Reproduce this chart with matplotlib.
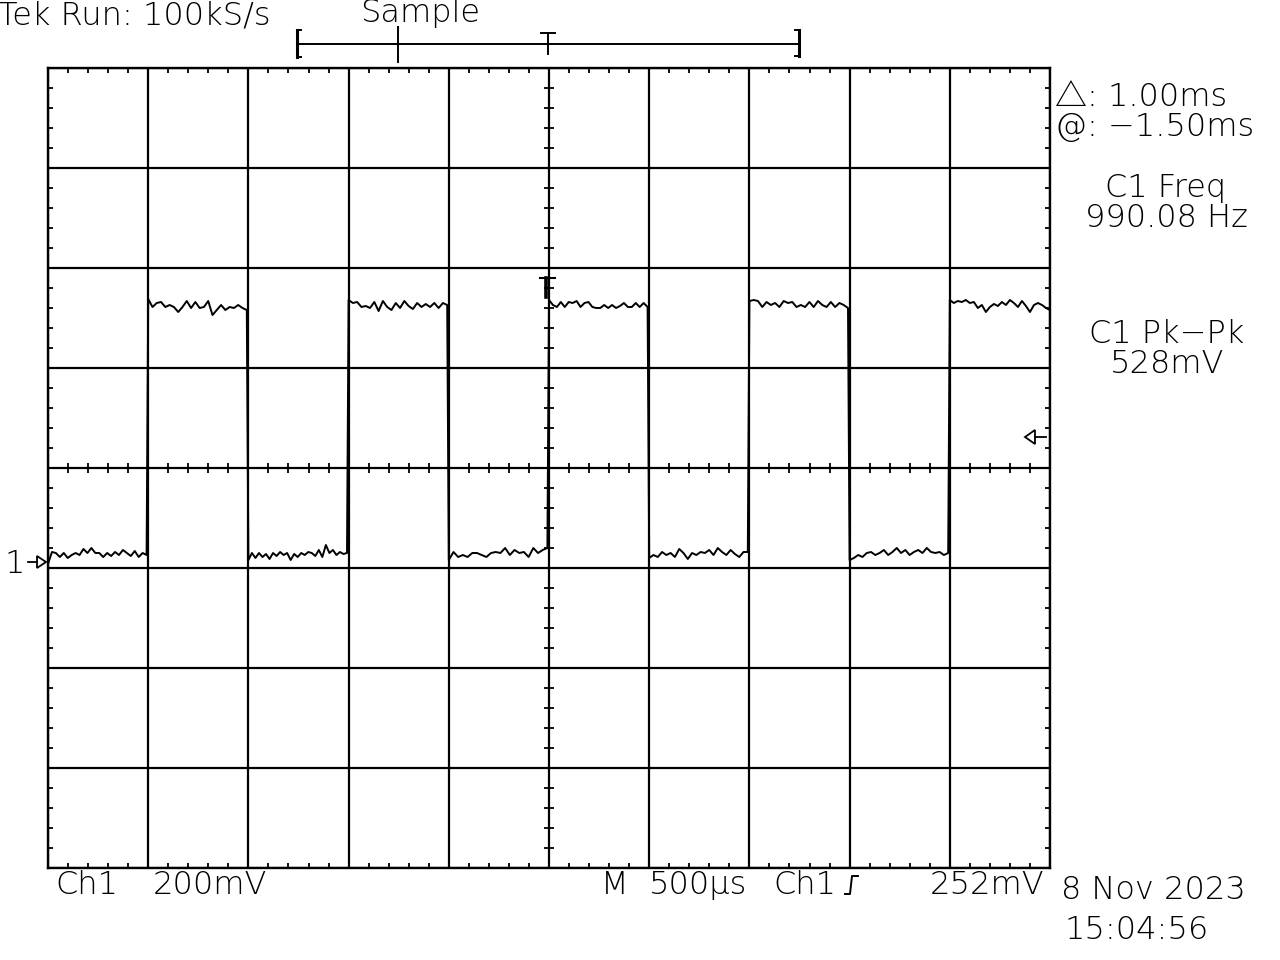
#!/usr/bin/env python3
# -*- coding: utf-8 -*-
"""Tek scope screen capture: Ch1 square wave at ~1 kHz."""

import matplotlib

matplotlib.use("Agg")

import matplotlib.pyplot as plt
from matplotlib.patches import Polygon
import numpy as np

# scope settings
TIME_PER_DIV_MS = 0.5      # M 500us
VOLT_PER_DIV_MV = 200.0    # Ch1 200mV
CH1_OFFSET_DIV = -0.94     # ground marker "1->"
N_XDIV = 10
N_YDIV = 8

# edge times (ms from left of screen)
EDGE_MS = [0.5, 1.0, 1.5, 2.0, 2.5, 3.0, 3.5, 4.0, 4.5]

# Ch1 samples on each flat part (mV)
PLATEAU_MV = [
    [-4, 20, 18, 10, 18, 8, 14, 18, 14, 26, 18, 28, 18, 18, 10, 18, 12, 20, 14, 24, 18, 12, 22, 10, 18, 14],
    [526, 510, 518, 520, 510, 514, 510, 500, 510, 522, 508, 520, 508, 510, 522, 494, 504, 514, 504, 510, 508, 514, 508, 504],
    [4, 18, 8, 18, 10, 16, 6, 18, 12, 20, 14, 18, 4, 16, 10, 18, 14, 20, 18, 12, 24, 10, 34, 18, 24, 14, 20, 16, 18],
    [524, 518, 520, 510, 512, 508, 520, 502, 522, 510, 504, 518, 508, 522, 512, 506, 518, 510, 516, 510, 518, 508, 518, 514],
    [4, 20, 10, 14, 10, 18, 18, 14, 10, 18, 20, 18, 28, 14, 24, 18, 20, 10, 28, 18, 24, 28],
    [524, 514, 510, 520, 510, 520, 518, 522, 510, 518, 520, 510, 508, 508, 514, 508, 514, 508, 512, 518, 510, 510, 518, 510, 518, 510],
    [8, 14, 10, 20, 14, 18, 10, 26, 18, 6, 18, 14, 20, 18, 24, 14, 28, 20, 14, 24, 16, 10, 20, 20],
    [522, 524, 522, 510, 520, 514, 518, 510, 522, 518, 520, 510, 514, 510, 520, 510, 522, 514, 510, 520, 510, 518, 514, 508],
    [4, 8, 14, 10, 18, 20, 14, 18, 24, 14, 20, 28, 18, 24, 14, 20, 24, 18, 28, 20, 18, 20, 14, 18],
    [524, 518, 522, 520, 524, 518, 520, 508, 514, 500, 510, 516, 512, 520, 514, 524, 518, 510, 522, 512, 500, 514, 518, 514, 508, 504],
]

HEADER_LEFT = "Tek Run: 100kS/s"
HEADER_MODE = "Sample"
MEAS_CURSOR = ["\u25b3: 1.00ms", "@: \u22121.50ms"]
MEAS_FREQ = ["C1 Freq", "990.08 Hz"]
MEAS_PKPK = ["C1 Pk\u2212Pk", "528mV"]
FOOT_CH1 = ["Ch1", "200mV"]
FOOT_TIME = ["M", "500\u00b5s", "Ch1", "252mV"]
DATE_TEXT = "8 Nov 2023"
TIME_TEXT = "15:04:56"

W, H = 1280, 960
FS = 23
FAMILIES = ["DejaVu Sans", "Noto Sans CJK SC"]


def build_trace():
    bounds = [0.0] + EDGE_MS + [N_XDIV * TIME_PER_DIV_MS]
    t_all, v_all = [], []
    last = len(PLATEAU_MV) - 1
    for k, seg in enumerate(PLATEAU_MV):
        end = bounds[k + 1] - (0.008 if k < last else 0.0)
        t_all.append(np.linspace(bounds[k], end, len(seg)))
        v_all.append(np.asarray(seg, dtype=float))
    t = np.concatenate(t_all)
    v = np.concatenate(v_all)
    return t / TIME_PER_DIV_MS, v / VOLT_PER_DIV_MV + CH1_OFFSET_DIV


def draw_graticule(ax):
    ax.set_xlim(0, N_XDIV)
    ax.set_ylim(-N_YDIV / 2, N_YDIV / 2)
    ax.set_xticks(np.arange(0, N_XDIV + 1, 1))
    ax.set_yticks(np.arange(-N_YDIV / 2, N_YDIV / 2 + 1, 1))
    ax.set_xticks(np.arange(0, N_XDIV + 0.01, 0.2), minor=True)
    ax.set_yticks(np.arange(-N_YDIV / 2, N_YDIV / 2 + 0.01, 0.2), minor=True)
    ax.grid(True, which="major", color="black", linewidth=1.6)
    ax.tick_params(which="major", length=0, labelbottom=False, labelleft=False)
    ax.tick_params(which="minor", direction="in", length=3.8, width=1.3, color="black",
                   top=True, right=True, bottom=True, left=True)
    for sp in ax.spines.values():
        sp.set_linewidth(1.7)
        sp.set_color("black")

    # minor ticks on the centre cross
    xs = np.arange(0.2, N_XDIV, 0.2)
    ys = np.arange(-N_YDIV / 2 + 0.2, N_YDIV / 2, 0.2)
    ax.plot(xs, np.zeros_like(xs), linestyle="none", marker="|", markersize=7.4,
            markeredgewidth=1.3, color="black", zorder=3)
    ax.plot(np.full_like(ys, N_XDIV / 2), ys, linestyle="none", marker="_", markersize=7.4,
            markeredgewidth=1.3, color="black", zorder=3)


def draw_annotations(ov):
    txt = dict(fontsize=FS, color="black", va="baseline", fontweight="light", family=FAMILIES)
    ov.text(-2, 24, HEADER_LEFT, ha="left", **txt)
    ov.text(360, 22, HEADER_MODE, ha="left", **txt)

    # record-length bar
    ov.plot([297, 800], [44, 44], color="black", lw=1.4)
    ov.plot([297, 297], [30, 57], color="black", lw=2.2)
    ov.plot([297, 301], [30, 30], color="black", lw=1.4)
    ov.plot([297, 301], [57, 57], color="black", lw=1.4)
    ov.plot([799, 799], [30, 56], color="black", lw=2.2)
    ov.plot([795, 799], [30, 30], color="black", lw=1.4)
    ov.plot([795, 799], [56, 56], color="black", lw=1.4)
    ov.plot([398, 398], [27, 62], color="black", lw=1.4)
    ov.plot([541, 555], [33, 33], color="black", lw=1.4)
    ov.plot([548, 548], [33, 54], color="black", lw=1.4)

    # trigger position marker on the graticule
    ov.plot([540, 555], [278, 278], color="black", lw=1.5)
    ov.plot([546, 546], [278, 297], color="black", lw=2.6)

    # measurements
    ov.text(1055, 106, MEAS_CURSOR[0], ha="left", **txt)
    ov.text(1055, 136, MEAS_CURSOR[1], ha="left", **txt)
    ov.text(1166, 197, MEAS_FREQ[0], ha="center", **txt)
    ov.text(1166, 227, MEAS_FREQ[1], ha="center", **txt)
    ov.text(1167, 343, MEAS_PKPK[0], ha="center", **txt)
    ov.text(1167, 373, MEAS_PKPK[1], ha="center", **txt)

    # trigger level arrow
    ov.add_patch(Polygon([[1025, 437], [1035, 430], [1035, 444]], closed=True,
                         facecolor="white", edgecolor="black", lw=1.3))
    ov.plot([1035, 1046], [437, 437], color="black", lw=1.3)

    # ch1 ground marker
    ov.text(4, 573, "1", ha="left", **txt)
    ov.plot([28, 37], [562, 562], color="black", lw=1.3)
    ov.add_patch(Polygon([[37, 556], [46, 562], [37, 568]], closed=True,
                         facecolor="white", edgecolor="black", lw=1.3))

    # footer
    ov.text(55, 894, FOOT_CH1[0], ha="left", **txt)
    ov.text(153, 894, FOOT_CH1[1], ha="left", **txt)
    ov.text(601, 894, FOOT_TIME[0], ha="left", **txt)
    ov.text(649, 894, FOOT_TIME[1], ha="left", **txt)
    ov.text(773, 894, FOOT_TIME[2], ha="left", **txt)
    ov.plot([845, 850, 852, 858], [894, 894, 876, 876], color="black", lw=1.4)
    ov.text(930, 894, FOOT_TIME[3], ha="left", **txt)
    ov.text(1061, 899, DATE_TEXT, ha="left", **txt)
    ov.text(1064, 939, TIME_TEXT, ha="left", **txt)


def main():
    plt.rcParams["font.family"] = FAMILIES
    fig = plt.figure(figsize=(W / 100, H / 100), dpi=100)
    fig.patch.set_facecolor("white")

    ax = fig.add_axes([48 / W, (H - 868) / H, 1002 / W, 800 / H])
    draw_graticule(ax)

    x_div, y_div = build_trace()
    ax.plot(x_div, y_div, color="black", linewidth=1.4, zorder=4)

    ov = fig.add_axes([0, 0, 1, 1], zorder=5)
    ov.set_xlim(0, W)
    ov.set_ylim(H, 0)
    ov.patch.set_alpha(0)
    ov.axis("off")
    draw_annotations(ov)

    fig.savefig("out.png", dpi=100)
    plt.close(fig)


if __name__ == "__main__":
    main()
